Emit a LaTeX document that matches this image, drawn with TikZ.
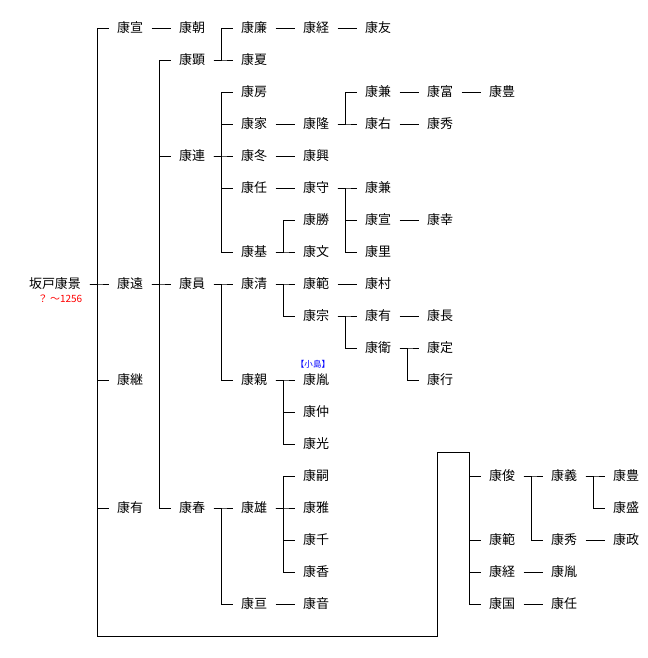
\documentclass[tikz,border=0pt]{standalone}
\usepackage{fontspec}
\setmainfont{Noto Sans CJK JP}
\usepackage{xcolor}

\tikzset{person/.style={inner xsep=6pt,inner ysep=0pt,text height=8.6pt,text depth=1.2pt,font=\fontsize{9.75}{10}\selectfont}}
\tikzset{note/.style={inner sep=0pt,font=\fontsize{7.5}{8}\selectfont}}

\begin{document}
\begin{tikzpicture}[x=0.75pt,y=-0.75pt,line width=0.75pt]
\useasboundingbox (0,0) rectangle (648,658);
\node[person] (kage) at (55,284) {坂戸康景};
\node[note,text=red] (kagenote) at (60,299) {？ ～1256};

\node[person] (nobu) at (130,28) {康宣};
\node[person] (to) at (130,284) {康遠};
\node[person] (tsugu) at (130,380) {康継};
\node[person] (ari) at (130,508) {康有};

\node[person] (tomo) at (192,28) {康朝};
\node[person] (aki) at (192,60) {康顕};
\node[person] (tsura) at (192,156) {康連};
\node[person] (kazu) at (192,284) {康員};
\node[person] (haru) at (192,508) {康春};

\node[person] (kado) at (254,28) {康廉};
\node[person] (natsu) at (254,60) {康夏};
\node[person] (fusa) at (254,92) {康房};
\node[person] (ie) at (254,124) {康家};
\node[person] (fuyu) at (254,156) {康冬};
\node[person] (nin) at (254,188) {康任};
\node[person] (moto) at (254,252) {康基};
\node[person] (kiyo) at (254,284) {康清};
\node[person] (chika) at (254,380) {康親};
\node[person] (yu) at (254,508) {康雄};
\node[person] (wata) at (254,604) {康亘};

\node[person] (tsune) at (316,28) {康経};
\node[person] (taka) at (316,124) {康隆};
\node[person] (oki) at (316,156) {康興};
\node[person] (mori) at (316,188) {康守};
\node[person] (katsu) at (316,220) {康勝};
\node[person] (fumi) at (316,252) {康文};
\node[person] (nori) at (316,284) {康範};
\node[person] (mune) at (316,316) {康宗};
\node[person] (tane) at (316,380) {康胤};
\node[note,text=blue,font=\fontsize{6.4}{7}\selectfont] (kojima) at (313,364) {【小島】};
\node[person] (naka) at (316,412) {康仲};
\node[person] (mitsu) at (316,444) {康光};
\node[person] (shi) at (316,476) {康嗣};
\node[person] (masa) at (316,508) {康雅};
\node[person] (sen) at (316,540) {康千};
\node[person] (ka) at (316,572) {康香};
\node[person] (oto) at (316,604) {康音};

\node[person] (yuu) at (378,28) {康友};
\node[person] (kane) at (378,92) {康兼};
\node[person] (migi) at (378,124) {康右};
\node[person] (kanetwo) at (378,188) {康兼};
\node[person] (nobutwo) at (378,220) {康宣};
\node[person] (sato) at (378,252) {康里};
\node[person] (mura) at (378,284) {康村};
\node[person] (aritwo) at (378,316) {康有};
\node[person] (ei) at (378,348) {康衛};

\node[person] (tomi) at (440,92) {康富};
\node[person] (hide) at (440,124) {康秀};
\node[person] (yuki) at (440,220) {康幸};
\node[person] (naga) at (440,316) {康長};
\node[person] (sada) at (440,348) {康定};
\node[person] (gyou) at (440,380) {康行};

\node[person] (toyo) at (502,92) {康豊};

\node[person] (shun) at (502,476) {康俊};
\node[person] (noritwo) at (502,540) {康範};
\node[person] (tsunetwo) at (502,572) {康経};
\node[person] (kuni) at (502,604) {康国};
\node[person] (yoshi) at (564,476) {康義};
\node[person] (hidetwo) at (564,540) {康秀};
\node[person] (tanetwo) at (564,572) {康胤};
\node[person] (nintwo) at (564,604) {康任};
\node[person] (toyotwo) at (626,476) {康豊};
\node[person] (moritwo) at (626,508) {康盛};
\node[person] (matsu) at (626,540) {康政};

\coordinate (lowR) at (437,636);
\coordinate (highR) at (437,452);

\draw (kage.east) -| ([xshift=-8.25pt]nobu.west) -- (nobu.west);
\draw (kage.east) -| ([xshift=-8.25pt]to.west) -- (to.west);
\draw (kage.east) -| ([xshift=-8.25pt]tsugu.west) -- (tsugu.west);
\draw (kage.east) -| ([xshift=-8.25pt]ari.west) -- (ari.west);
\draw ([xshift=-8.25pt]ari.west) |- (lowR) -- (highR);

\draw (nobu.east) -- (tomo.west);
\draw (to.east) -| ([xshift=-8.25pt]aki.west) -- (aki.west);
\draw (to.east) -| ([xshift=-8.25pt]tsura.west) -- (tsura.west);
\draw (to.east) -| ([xshift=-8.25pt]kazu.west) -- (kazu.west);
\draw (to.east) -| ([xshift=-8.25pt]haru.west) -- (haru.west);

\draw (aki.east) -| ([xshift=-8.25pt]kado.west) -- (kado.west);
\draw (aki.east) -| ([xshift=-8.25pt]natsu.west) -- (natsu.west);
\draw (kado.east) -- (tsune.west);
\draw (tsune.east) -- (yuu.west);

\draw (tsura.east) -| ([xshift=-8.25pt]fusa.west) -- (fusa.west);
\draw (tsura.east) -| ([xshift=-8.25pt]ie.west) -- (ie.west);
\draw (tsura.east) -| ([xshift=-8.25pt]fuyu.west) -- (fuyu.west);
\draw (tsura.east) -| ([xshift=-8.25pt]nin.west) -- (nin.west);
\draw (tsura.east) -| ([xshift=-8.25pt]moto.west) -- (moto.west);
\draw (ie.east) -- (taka.west);
\draw (taka.east) -| ([xshift=-8.25pt]kane.west) -- (kane.west);
\draw (taka.east) -| ([xshift=-8.25pt]migi.west) -- (migi.west);
\draw (kane.east) -- (tomi.west);
\draw (tomi.east) -- (toyo.west);
\draw (migi.east) -- (hide.west);
\draw (fuyu.east) -- (oki.west);
\draw (nin.east) -- (mori.west);
\draw (mori.east) -| ([xshift=-8.25pt]kanetwo.west) -- (kanetwo.west);
\draw (mori.east) -| ([xshift=-8.25pt]nobutwo.west) -- (nobutwo.west);
\draw (mori.east) -| ([xshift=-8.25pt]sato.west) -- (sato.west);
\draw (nobutwo.east) -- (yuki.west);
\draw (moto.east) -| ([xshift=-8.25pt]katsu.west) -- (katsu.west);
\draw (moto.east) -| ([xshift=-8.25pt]fumi.west) -- (fumi.west);

\draw (kazu.east) -| ([xshift=-8.25pt]kiyo.west) -- (kiyo.west);
\draw (kazu.east) -| ([xshift=-8.25pt]chika.west) -- (chika.west);
\draw (kiyo.east) -| ([xshift=-8.25pt]nori.west) -- (nori.west);
\draw (kiyo.east) -| ([xshift=-8.25pt]mune.west) -- (mune.west);
\draw (nori.east) -- (mura.west);
\draw (mune.east) -| ([xshift=-8.25pt]aritwo.west) -- (aritwo.west);
\draw (mune.east) -| ([xshift=-8.25pt]ei.west) -- (ei.west);
\draw (aritwo.east) -- (naga.west);
\draw (ei.east) -| ([xshift=-8.25pt]sada.west) -- (sada.west);
\draw (ei.east) -| ([xshift=-8.25pt]gyou.west) -- (gyou.west);
\draw (chika.east) -| ([xshift=-8.25pt]tane.west) -- (tane.west);
\draw (chika.east) -| ([xshift=-8.25pt]naka.west) -- (naka.west);
\draw (chika.east) -| ([xshift=-8.25pt]mitsu.west) -- (mitsu.west);

\draw (haru.east) -| ([xshift=-8.25pt]yu.west) -- (yu.west);
\draw (haru.east) -| ([xshift=-8.25pt]wata.west) -- (wata.west);
\draw (yu.east) -| ([xshift=-8.25pt]shi.west) -- (shi.west);
\draw (yu.east) -| ([xshift=-8.25pt]masa.west) -- (masa.west);
\draw (yu.east) -| ([xshift=-8.25pt]sen.west) -- (sen.west);
\draw (yu.east) -| ([xshift=-8.25pt]ka.west) -- (ka.west);
\draw (wata.east) -- (oto.west);

\draw (highR) -| ([xshift=-8.25pt]shun.west) -- (shun.west);
\draw (highR) -| ([xshift=-8.25pt]noritwo.west) -- (noritwo.west);
\draw (highR) -| ([xshift=-8.25pt]tsunetwo.west) -- (tsunetwo.west);
\draw (highR) -| ([xshift=-8.25pt]kuni.west) -- (kuni.west);
\draw (shun.east) -| ([xshift=-8.25pt]yoshi.west) -- (yoshi.west);
\draw (shun.east) -| ([xshift=-8.25pt]hidetwo.west) -- (hidetwo.west);
\draw (yoshi.east) -| ([xshift=-8.25pt]toyotwo.west) -- (toyotwo.west);
\draw (yoshi.east) -| ([xshift=-8.25pt]moritwo.west) -- (moritwo.west);
\draw (hidetwo.east) -- (matsu.west);
\draw (tsunetwo.east) -- (tanetwo.west);
\draw (kuni.east) -- (nintwo.west);
\end{tikzpicture}
\end{document}
